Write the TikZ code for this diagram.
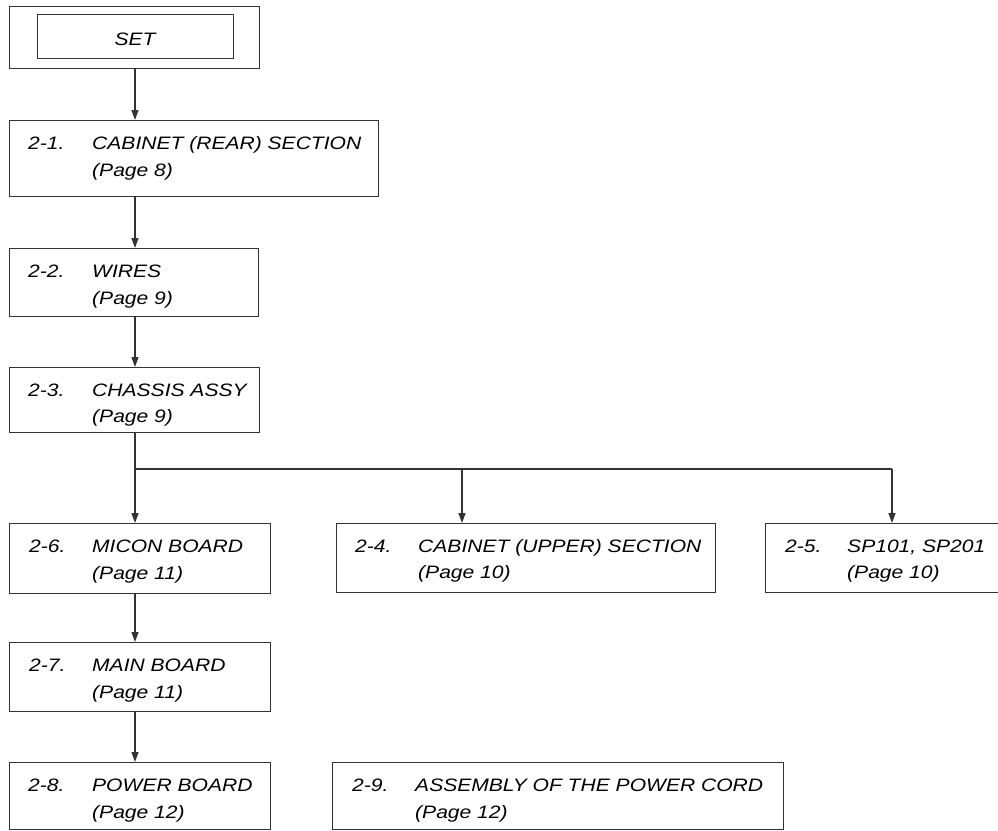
\documentclass[tikz,border=0pt]{standalone}
\usepackage{fontspec}
\newfontfamily\labfont[FakeStretch=1.17]{Liberation Sans}
\usetikzlibrary{arrows.meta}
\definecolor{ink}{HTML}{333333}
\begin{document}
\begin{tikzpicture}[x=1pt,y=-1pt,
  box/.style={draw=ink, line width=1.2pt, rectangle, inner sep=0pt, anchor=north west},
  lbl/.style={inner sep=0pt, anchor=base west, font=\labfont\itshape\fontsize{18}{22}\selectfont, text=black},
  arr/.style={draw=ink, line width=1.2pt, -{Triangle[length=10pt,width=7pt]}},
  ln/.style={draw=ink, line width=1.2pt}]
\useasboundingbox (0,0) rectangle (998,830);

% SET
\node[box, minimum width=250pt, minimum height=62pt] (setout) at (9,6) {};
\node[box, minimum width=196pt, minimum height=44pt] (setin) at (37,14) {};
\node[lbl, anchor=base] (settxt) at (135,45) {SET};

% 2-1
\node[box, minimum width=369pt, minimum height=76pt] (b21) at (9,120) {};
\node[lbl] (n21) at (28,149) {2-1.};
\node[lbl] (t21) at (92,149) {CABINET (REAR) SECTION};
\node[lbl] (p21) at (92,176) {(Page 8)};

% 2-2
\node[box, minimum width=249pt, minimum height=68pt] (b22) at (9,248) {};
\node[lbl] (n22) at (28,277) {2-2.};
\node[lbl] (t22) at (92,277) {WIRES};
\node[lbl] (p22) at (92,304) {(Page 9)};

% 2-3
\node[box, minimum width=250pt, minimum height=65pt] (b23) at (9,367) {};
\node[lbl] (n23) at (28,396) {2-3.};
\node[lbl] (t23) at (92,396) {CHASSIS ASSY};
\node[lbl] (p23) at (92,422) {(Page 9)};

% 2-6
\node[box, minimum width=261pt, minimum height=70pt] (b26) at (9,523) {};
\node[lbl] (n26) at (29,552) {2-6.};
\node[lbl] (t26) at (92,552) {MICON BOARD};
\node[lbl] (p26) at (92,579) {(Page 11)};

% 2-4
\node[box, minimum width=379pt, minimum height=69pt] (b24) at (336,523) {};
\node[lbl] (n24) at (355,552) {2-4.};
\node[lbl] (t24) at (418,552) {CABINET (UPPER) SECTION};
\node[lbl] (p24) at (418,578) {(Page 10)};

% 2-5
\node[box, minimum width=240pt, minimum height=69pt] (b25) at (765,523) {};
\node[lbl] (n25) at (785,552) {2-5.};
\node[lbl] (t25) at (847,552) {SP101, SP201};
\node[lbl] (p25) at (847,578) {(Page 10)};

% 2-7
\node[box, minimum width=261pt, minimum height=69pt] (b27) at (9,642) {};
\node[lbl] (n27) at (29,671) {2-7.};
\node[lbl] (t27) at (92,671) {MAIN BOARD};
\node[lbl] (p27) at (92,698) {(Page 11)};

% 2-8
\node[box, minimum width=261pt, minimum height=67pt] (b28) at (9,762) {};
\node[lbl] (n28) at (28,791) {2-8.};
\node[lbl] (t28) at (92,791) {POWER BOARD};
\node[lbl] (p28) at (92,818) {(Page 12)};

% 2-9
\node[box, minimum width=451pt, minimum height=67pt] (b29) at (332,762) {};
\node[lbl] (n29) at (352,791) {2-9.};
\node[lbl] (t29) at (415,791) {ASSEMBLY OF THE POWER CORD};
\node[lbl] (p29) at (415,818) {(Page 12)};

% connectors
\coordinate (tx) at (135,0);
\coordinate (ux) at (462,0);
\coordinate (vx) at (892,0);
\coordinate (bus) at (135,469);
\coordinate (busr) at (892,469);
\coordinate (busm) at (462,469);

\draw[arr] (setout.south -| tx) -- (b21.north -| tx);
\draw[arr] (b21.south -| tx) -- (b22.north -| tx);
\draw[arr] (b22.south -| tx) -- (b23.north -| tx);
\draw[arr] (b23.south -| tx) -- (b26.north -| tx);
\draw[ln] (bus) -- (busr);
\draw[arr] (busm) -- (b24.north -| ux);
\draw[arr] (busr) -- (b25.north -| vx);
\draw[arr] (b26.south -| tx) -- (b27.north -| tx);
\draw[arr] (b27.south -| tx) -- (b28.north -| tx);
\end{tikzpicture}
\end{document}
